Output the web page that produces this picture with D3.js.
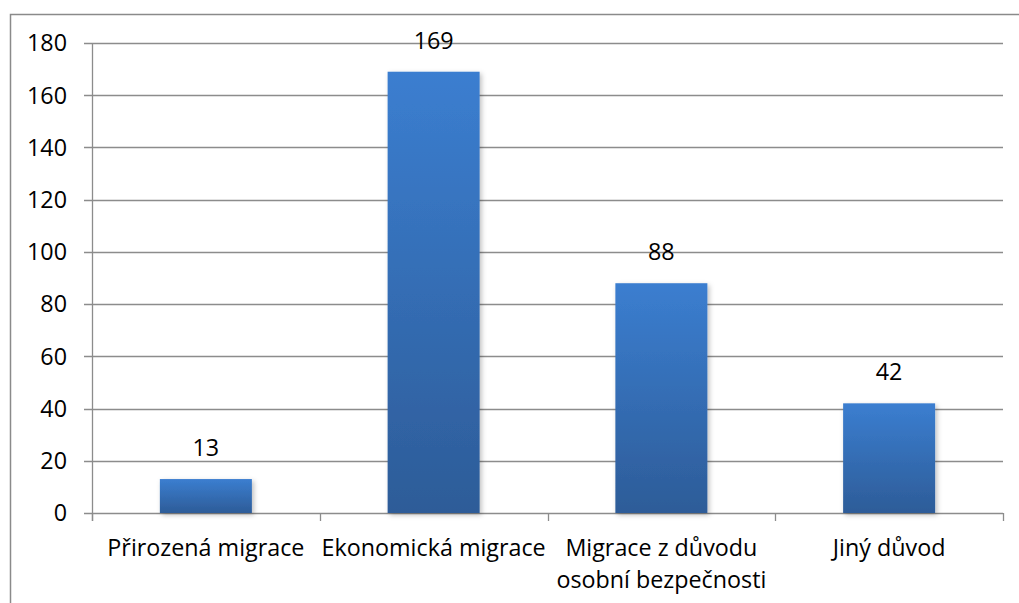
<!DOCTYPE html>
<html><head><meta charset="utf-8">
<script src="https://cdn.jsdelivr.net/npm/d3@7"></script>
<style>html,body{margin:0;padding:0;background:#fff;overflow:hidden}</style>
</head><body>
<svg id="chart" width="1019" height="603"></svg>
<script>
const categories = ["Přirozená migrace", "Ekonomická migrace", "Migrace z důvodu\nosobní bezpečnosti", "Jiný důvod"];
const values = [13, 169, 88, 42];
const yTicks = [0, 20, 40, 60, 80, 100, 120, 140, 160, 180];

const FONT = "'Open Sans', sans-serif";
const FS = 23.3;
const svg = d3.select("#chart");
const mLeft = 92, mRight = 1003, mTop = 43, mBottom = 513;

const defs = svg.append("defs");
const grad = defs.append("linearGradient").attr("id", "barGrad")
  .attr("x1", 0).attr("y1", 0).attr("x2", 0).attr("y2", 1);
grad.append("stop").attr("offset", "0%").attr("stop-color", "#3b7ed0");
grad.append("stop").attr("offset", "100%").attr("stop-color", "#2d5c98");
const f = defs.append("filter").attr("id", "shadow").attr("x", "-20%").attr("y", "-20%").attr("width", "140%").attr("height", "140%");
f.append("feDropShadow").attr("dx", 2).attr("dy", 2).attr("stdDeviation", 2.5)
  .attr("flood-color", "#000").attr("flood-opacity", 0.25);

// chart border
svg.append("rect").attr("x", 10.5).attr("y", 14.5).attr("width", 1100).attr("height", 700)
  .attr("fill", "none").attr("stroke", "#8a8a8a").attr("stroke-width", 1.5);

const x = d3.scaleBand().domain(categories).range([mLeft, mRight]).paddingInner(0.596).paddingOuter(0.298);
const xb = d3.scaleBand().domain(categories).range([mLeft, mRight]);
const y = d3.scaleLinear().domain([0, 180]).range([mBottom, mTop]);

// gridlines
svg.append("g").selectAll("line").data(yTicks).join("line")
  .attr("x1", mLeft - 8).attr("x2", mRight)
  .attr("y1", d => Math.round(y(d)) + 0.5).attr("y2", d => Math.round(y(d)) + 0.5)
  .attr("stroke", "#8c8c8c").attr("stroke-width", 1.3);

// y axis line
svg.append("line").attr("x1", mLeft + 0.5).attr("x2", mLeft + 0.5).attr("y1", mTop).attr("y2", mBottom + 8)
  .attr("stroke", "#8c8c8c").attr("stroke-width", 1.3);

// category ticks
const bounds = categories.map(c => xb(c)).concat([mRight]);
svg.append("g").selectAll("line").data(bounds).join("line")
  .attr("x1", d => Math.round(d) + 0.5).attr("x2", d => Math.round(d) + 0.5)
  .attr("y1", mBottom).attr("y2", mBottom + 8)
  .attr("stroke", "#8c8c8c").attr("stroke-width", 1.3);

// y labels
svg.append("g").selectAll("text").data(yTicks).join("text")
  .attr("x", 67).attr("y", d => y(d)).attr("dy", "0.36em")
  .attr("text-anchor", "end").attr("font-family", FONT).attr("font-size", FS).attr("fill", "#000")
  .text(d => d);

// bars
svg.append("g").selectAll("rect").data(values).join("rect")
  .attr("x", (d, i) => x(categories[i])).attr("width", x.bandwidth())
  .attr("y", d => y(d)).attr("height", d => mBottom - y(d))
  .attr("fill", "url(#barGrad)").attr("filter", "url(#shadow)");

// value labels
svg.append("g").selectAll("text").data(values).join("text")
  .attr("x", (d, i) => x(categories[i]) + x.bandwidth() / 2).attr("y", d => y(d) - 23)
  .attr("text-anchor", "middle").attr("font-family", FONT).attr("font-size", FS).attr("fill", "#000")
  .text(d => d);

// category labels
const cl = svg.append("g").selectAll("text").data(categories).join("text")
  .attr("x", d => xb(d) + xb.bandwidth() / 2).attr("y", 556)
  .attr("text-anchor", "middle").attr("font-family", FONT).attr("font-size", FS).attr("fill", "#000");
cl.each(function(d) {
  const lines = d.split("\n");
  const t = d3.select(this);
  lines.forEach((ln, i) => {
    t.append("tspan").attr("x", xb(d) + xb.bandwidth() / 2).attr("dy", i === 0 ? 0 : 32).text(ln);
  });
});
</script>
</body></html>
